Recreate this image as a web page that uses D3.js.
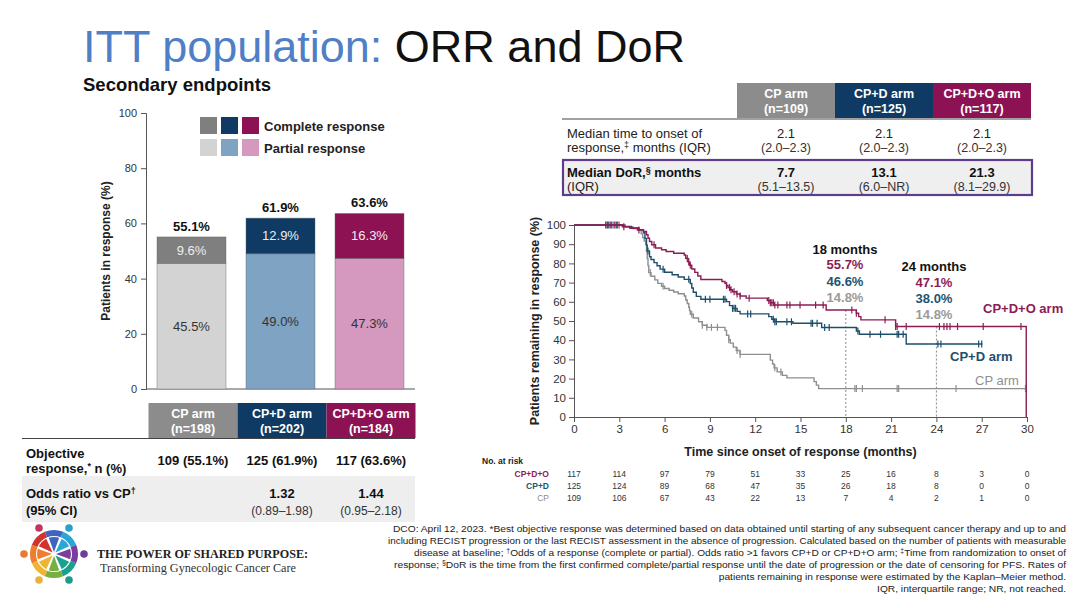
<!DOCTYPE html>
<html><head><meta charset="utf-8">
<script src="https://cdn.jsdelivr.net/npm/d3@7"></script>
<style>body{margin:0;background:#fff;} svg{display:block;font-family:"Liberation Sans",Arial,sans-serif;}</style>
</head><body><svg id="c" width="1080" height="608"></svg>
<script>
// ---------- data ----------
const arms = ["CP arm", "CP+D arm", "CP+D+O arm"];
const completeResp = [9.6, 12.9, 16.3];
const partialResp = [45.5, 49.0, 47.3];
const totalResp = [55.1, 61.9, 63.6];
const barTicks = [0, 20, 40, 60, 80, 100];
const legendLabels = ["Complete response", "Partial response"];

const ittN = ["(n=198)", "(n=202)", "(n=184)"];
const orrText = ["109 (55.1%)", "125 (61.9%)", "117 (63.6%)"];
const oddsRatio = ["", "1.32", "1.44"];
const oddsCI = ["", "(0.89–1.98)", "(0.95–2.18)"];

const respN = ["(n=109)", "(n=125)", "(n=117)"];
const onsetMedian = ["2.1", "2.1", "2.1"];
const onsetIQR = ["(2.0–2.3)", "(2.0–2.3)", "(2.0–2.3)"];
const dorMedian = ["7.7", "13.1", "21.3"];
const dorIQR = ["(5.1–13.5)", "(6.0–NR)", "(8.1–29.9)"];

const kmTicksX = [0, 3, 6, 9, 12, 15, 18, 21, 24, 27, 30];
const kmTicksY = [0, 10, 20, 30, 40, 50, 60, 70, 80, 90, 100];

// KM step points [month, % after step]
const kmCPDO = [[0,100],[3.2,99.1],[3.7,98.3],[4.2,97.4],[4.6,96.6],[4.8,94.9],[4.9,93.1],[5.0,91.4],[5.15,89.7],[5.4,88.0],[5.8,87.1],[6.1,86.2],[6.6,85.3],[7.3,84.4],[7.4,82.6],[7.55,80.8],[7.65,79.0],[7.8,77.1],[8.0,75.3],[8.2,73.4],[8.4,71.6],[9.8,70.6],[10.0,69.6],[10.1,68.5],[10.2,67.4],[10.35,66.3],[10.5,65.2],[10.75,64.1],[11.0,63.0],[11.4,61.9],[12.8,60.7],[13.0,59.5],[13.25,58.3],[16.7,55.7],[18.7,54.0],[18.85,52.3],[19.0,50.6],[21.3,47.1],[29.95,0]];
const kmCPD = [[0,100],[3.3,99.2],[3.8,98.4],[4.3,97.6],[4.6,96.0],[4.7,93.0],[4.8,89.5],[4.85,86.5],[5.0,83.5],[5.1,82.0],[5.3,80.4],[5.5,78.8],[5.7,77.0],[6.0,75.4],[6.5,74.1],[6.9,72.9],[7.3,71.7],[7.7,69.5],[7.8,67.2],[7.9,65.0],[8.1,62.8],[8.4,61.3],[10.1,60.1],[10.3,58.0],[10.5,56.6],[10.8,55.0],[11.0,53.7],[12.9,52.3],[13.1,50.9],[13.3,49.6],[14.5,48.8],[16.4,46.6],[18.7,44.8],[18.9,43.1],[22.0,38.0],[27.05,38.0]];
const kmCP = [[0,100],[3.4,99.1],[3.9,98.2],[4.3,97.2],[4.45,95.4],[4.55,93.5],[4.65,91.7],[4.75,89.9],[4.8,86.2],[4.85,82.5],[4.9,78.9],[4.95,75.2],[5.1,73.3],[5.35,71.4],[5.55,69.6],[5.8,68.1],[6.0,66.9],[6.3,66.0],[6.6,65.1],[6.9,64.2],[7.3,63.0],[7.4,60.9],[7.5,59.1],[7.6,57.2],[7.65,55.4],[7.7,53.5],[7.9,51.6],[8.25,49.6],[8.5,47.8],[8.8,46.7],[10.0,45.1],[10.1,42.6],[10.25,40.2],[10.35,38.5],[10.55,36.4],[10.75,34.6],[11.0,32.6],[13.0,29.6],[13.15,27.6],[13.25,25.6],[13.45,23.5],[13.8,21.7],[14.1,20.4],[15.9,18.4],[16.05,16.6],[16.2,14.8],[29.9,14.8]];

const censCPDO = [2.2,2.4,2.7,2.9,3.3,4.3,5.3,7.5,7.6,7.7,10.1,10.3,10.4,10.6,10.8,11.0,11.6,12.9,13.0,13.1,13.2,13.3,13.5,14.1,14.3,14.97,16.0,16.5,18.4,18.7,20.6,21.3,21.4,22.0,24.2,24.5,24.7,24.9,25.4,27.1,29.6];
const censCPD = [2.1,2.3,2.5,2.8,4.9,5.9,7.6,8.7,9.0,9.9,10.0,10.5,10.6,10.7,11.5,11.7,13.2,13.3,13.4,14.1,14.4,15.7,15.8,16.1,16.6,16.9,18.8,19.6,20.3,21.4,21.5,21.8,24.1,24.3,26.8,27.0];
const censCP = [2.2,2.6,3.0,5.05,5.9,7.8,8.5,8.8,9.1,9.5,10.25,10.8,11.0,13.3,13.7,18.6,18.7,19.1,21.4,21.5,25.3,29.9];

const rate18 = ["55.7%", "46.6%", "14.8%"];
const rate24 = ["47.1%", "38.0%", "14.8%"];
const landmarkValue18 = 55.7, landmarkValue24 = 47.1;

const riskLabels = ["CP+D+O", "CP+D", "CP"];
const riskCPDO = [117,114,97,79,51,33,25,16,8,3,0];
const riskCPD = [125,124,89,68,47,35,26,18,8,0,0];
const riskCP = [109,106,67,43,22,13,7,4,2,1,0];

const footLines = [
  ["DCO: April 12, 2023. *Best objective response was determined based on data obtained until starting of any subsequent cancer therapy and up to and"],
  ["including RECIST progression or the last RECIST assessment in the absence of progression. Calculated based on the number of patients with measurable"],
  ["disease at baseline; ", "†", "Odds of a response (complete or partial). Odds ratio >1 favors CP+D or CP+D+O arm; ", "‡", "Time from randomization to onset of"],
  ["response; ", "§", "DoR is the time from the first confirmed complete/partial response until the date of progression or the date of censoring for PFS. Rates of"],
  ["patients remaining in response were estimated by the Kaplan–Meier method."],
  ["IQR, interquartile range; NR, not reached."]
];

// ---------- styles ----------
const completeColors = ["#7f7f7f", "#0e3a63", "#8c1253"];
const partialColors = ["#d3d3d3", "#7ea3c3", "#d598bf"];
const headerColors = ["#8c8c8c", "#0e3a63", "#8c1253"];
const kmColors = ["#8c1c55", "#1d4f6c", "#8f8f8f"];
const rateColors = ["#8c1c55", "#1d5570", "#9a9a9a"];

const svg = d3.select("#c");

// ---------- title ----------
const title = svg.append("text").attr("x", 83).attr("y", 62).attr("font-size", 45);
title.append("tspan").attr("fill", "#4f7fc6").text("ITT population: ");
title.append("tspan").attr("fill", "#111").text("ORR and DoR");
svg.append("text").attr("x", 83).attr("y", 91).attr("font-size", 18.5).attr("font-weight", "bold")
  .attr("fill", "#111").text("Secondary endpoints");

// ---------- bar chart ----------
const xBar = d3.scaleBand().domain(arms).range([147, 414]).paddingInner(20/89).paddingOuter(10/89);
const yBar = d3.scaleLinear().domain([0, 100]).range([389, 113]);

const gy = svg.append("g").attr("transform", "translate(146,0)")
  .call(d3.axisLeft(yBar).tickValues(barTicks).tickSize(5).tickPadding(4));
gy.selectAll("text").attr("font-size", 11).attr("fill", "#333").attr("font-family", "Liberation Sans, Arial");
gy.selectAll("line,path").attr("stroke", "#555");
svg.append("line").attr("x1", 146).attr("x2", 415).attr("y1", yBar(0)).attr("y2", yBar(0)).attr("stroke", "#555");
svg.append("text").attr("transform", `translate(110,${(yBar(0)+yBar(100))/2}) rotate(-90)`)
  .attr("text-anchor", "middle").attr("font-size", 12).attr("font-weight", "bold").attr("fill", "#222")
  .text("Patients in response (%)");

arms.forEach((a, i) => {
  const x = xBar(a), w = xBar.bandwidth();
  svg.append("rect").attr("x", x).attr("width", w).attr("y", yBar(partialResp[i]))
    .attr("height", yBar(0) - yBar(partialResp[i])).attr("fill", partialColors[i])
    .attr("stroke", "#666").attr("stroke-opacity", 0.5).attr("stroke-width", 0.8);
  svg.append("rect").attr("x", x).attr("width", w).attr("y", yBar(totalResp[i]))
    .attr("height", yBar(partialResp[i]) - yBar(totalResp[i])).attr("fill", completeColors[i])
    .attr("stroke", "#666").attr("stroke-opacity", 0.5).attr("stroke-width", 0.8);
  const cx = x + w / 2;
  svg.append("text").attr("x", cx).attr("y", yBar(totalResp[i]) - 6).attr("text-anchor", "middle")
    .attr("font-size", 13).attr("font-weight", "bold").attr("fill", "#111").text(totalResp[i].toFixed(1) + "%");
  svg.append("text").attr("x", cx).attr("y", (yBar(totalResp[i]) + yBar(partialResp[i])) / 2 + 4.5)
    .attr("text-anchor", "middle").attr("font-size", 13).attr("fill", "#eeeeee").text(completeResp[i].toFixed(1) + "%");
  svg.append("text").attr("x", cx).attr("y", (yBar(partialResp[i]) + yBar(0)) / 2 + 4.5)
    .attr("text-anchor", "middle").attr("font-size", 13).attr("fill", "#333").text(partialResp[i].toFixed(1) + "%");
});

// legend
[completeColors, partialColors].forEach((cols, r) => {
  cols.forEach((c, i) => {
    svg.append("rect").attr("x", 200 + i * 21).attr("y", 117 + r * 22).attr("width", 17).attr("height", 17).attr("fill", c);
  });
  svg.append("text").attr("x", 264).attr("y", 130.5 + r * 22).attr("font-size", 13).attr("font-weight", "bold")
    .attr("fill", "#222").text(legendLabels[r]);
});

// ---------- left table ----------
arms.forEach((a, i) => {
  const cx = xBar(a) + xBar.bandwidth() / 2 + 1.5;
  svg.append("rect").attr("x", cx - 44.5).attr("y", 403).attr("width", 89).attr("height", 35).attr("fill", headerColors[i]);
  svg.append("text").attr("x", cx).attr("y", 417.5).attr("text-anchor", "middle").attr("font-size", 12.5)
    .attr("font-weight", "bold").attr("fill", "#fff").text(a);
  svg.append("text").attr("x", cx).attr("y", 433).attr("text-anchor", "middle").attr("font-size", 12.5)
    .attr("font-weight", "bold").attr("fill", "#fff").text(ittN[i]);
});
svg.append("line").attr("x1", 22).attr("x2", 415).attr("y1", 438.5).attr("y2", 438.5).attr("stroke", "#444").attr("stroke-width", 1.2);
svg.append("rect").attr("x", 22).attr("y", 476).attr("width", 393).attr("height", 46).attr("fill", "#eeeeee");
svg.append("text").attr("x", 26).attr("y", 458).attr("font-size", 13).attr("font-weight", "bold").attr("fill", "#111").text("Objective");
const rt = svg.append("text").attr("x", 26).attr("y", 473).attr("font-size", 13).attr("font-weight", "bold").attr("fill", "#111");
rt.append("tspan").text("response,");
rt.append("tspan").attr("font-size", 9).attr("dy", -4).text("*");
rt.append("tspan").attr("dy", 4).text(" n (%)");
const ot = svg.append("text").attr("x", 26).attr("y", 497.5).attr("font-size", 13).attr("font-weight", "bold").attr("fill", "#111");
ot.append("tspan").text("Odds ratio vs CP");
ot.append("tspan").attr("font-size", 9).attr("dy", -4).text("†");
svg.append("text").attr("x", 26).attr("y", 514.5).attr("font-size", 13).attr("font-weight", "bold").attr("fill", "#111").text("(95% CI)");
arms.forEach((a, i) => {
  const cx = xBar(a) + xBar.bandwidth() / 2 + 1.5;
  svg.append("text").attr("x", cx).attr("y", 465).attr("text-anchor", "middle").attr("font-size", 13)
    .attr("font-weight", "bold").attr("fill", "#111").text(orrText[i]);
  svg.append("text").attr("x", cx).attr("y", 497.5).attr("text-anchor", "middle").attr("font-size", 13)
    .attr("font-weight", "bold").attr("fill", "#111").text(oddsRatio[i]);
  svg.append("text").attr("x", cx).attr("y", 514.5).attr("text-anchor", "middle").attr("font-size", 12)
    .attr("fill", "#333").text(oddsCI[i]);
});

// ---------- right table ----------
const xTab = d3.scaleBand().domain(arms).range([737, 1031]);
arms.forEach((a, i) => {
  const x = xTab(a), cx = x + xTab.bandwidth() / 2;
  svg.append("rect").attr("x", x).attr("y", 83).attr("width", xTab.bandwidth()).attr("height", 35).attr("fill", headerColors[i]);
  svg.append("text").attr("x", cx).attr("y", 97.5).attr("text-anchor", "middle").attr("font-size", 12.5)
    .attr("font-weight", "bold").attr("fill", "#fff").text(a);
  svg.append("text").attr("x", cx).attr("y", 113).attr("text-anchor", "middle").attr("font-size", 12.5)
    .attr("font-weight", "bold").attr("fill", "#fff").text(respN[i]);
});
svg.append("line").attr("x1", 562).attr("x2", 1031).attr("y1", 119).attr("y2", 119).attr("stroke", "#444").attr("stroke-width", 1.2);
svg.append("text").attr("x", 567).attr("y", 137.5).attr("font-size", 13).attr("fill", "#222").text("Median time to onset of");
const mt = svg.append("text").attr("x", 567).attr("y", 152).attr("font-size", 13).attr("fill", "#222");
mt.append("tspan").text("response,");
mt.append("tspan").attr("font-size", 9).attr("dy", -4).text("‡");
mt.append("tspan").attr("dy", 4).text(" months (IQR)");
svg.append("rect").attr("x", 563).attr("y", 160).attr("width", 469).attr("height", 35).attr("fill", "#efefef")
  .attr("stroke", "#5e3c8c").attr("stroke-width", 2.2);
const dt = svg.append("text").attr("x", 567).attr("y", 176.5).attr("font-size", 13).attr("font-weight", "bold").attr("fill", "#111");
dt.append("tspan").text("Median DoR,");
dt.append("tspan").attr("font-size", 9).attr("dy", -4).text("§");
dt.append("tspan").attr("dy", 4).text(" months");
svg.append("text").attr("x", 567).attr("y", 190.5).attr("font-size", 13).attr("fill", "#222").text("(IQR)");
arms.forEach((a, i) => {
  const cx = xTab(a) + xTab.bandwidth() / 2;
  svg.append("text").attr("x", cx).attr("y", 137.5).attr("text-anchor", "middle").attr("font-size", 13).attr("fill", "#222").text(onsetMedian[i]);
  svg.append("text").attr("x", cx).attr("y", 152).attr("text-anchor", "middle").attr("font-size", 12.5).attr("fill", "#333").text(onsetIQR[i]);
  svg.append("text").attr("x", cx).attr("y", 176.5).attr("text-anchor", "middle").attr("font-size", 13).attr("font-weight", "bold").attr("fill", "#111").text(dorMedian[i]);
  svg.append("text").attr("x", cx).attr("y", 190.5).attr("text-anchor", "middle").attr("font-size", 12.5).attr("fill", "#333").text(dorIQR[i]);
});

// ---------- KM plot ----------
const xKM = d3.scaleLinear().domain([0, 30]).range([574, 1027]);
const yKM = d3.scaleLinear().domain([0, 100]).range([417, 225]);

const gky = svg.append("g").attr("transform", "translate(574,0)")
  .call(d3.axisLeft(yKM).tickValues(kmTicksY).tickSize(5).tickPadding(3));
const gkx = svg.append("g").attr("transform", "translate(0,417)")
  .call(d3.axisBottom(xKM).tickValues(kmTicksX).tickSize(5).tickPadding(3));
[gky, gkx].forEach(g => {
  g.selectAll("text").attr("font-size", 11.5).attr("fill", "#333").attr("font-family", "Liberation Sans, Arial");
  g.selectAll("line,path").attr("stroke", "#555");
});
svg.append("text").attr("transform", `translate(539,${(yKM(0)+yKM(100))/2}) rotate(-90)`)
  .attr("text-anchor", "middle").attr("font-size", 12.5).attr("font-weight", "bold").attr("fill", "#222")
  .text("Patients remaining in response (%)");
svg.append("text").attr("x", (xKM(0) + xKM(30)) / 2).attr("y", 456).attr("text-anchor", "middle")
  .attr("font-size", 12.5).attr("font-weight", "bold").attr("fill", "#222").text("Time since onset of response (months)");

// landmark dashed lines
svg.append("line").attr("x1", xKM(18)).attr("x2", xKM(18)).attr("y1", yKM(landmarkValue18)).attr("y2", yKM(0))
  .attr("stroke", "#888").attr("stroke-dasharray", "2,2");
svg.append("line").attr("x1", xKM(24)).attr("x2", xKM(24)).attr("y1", yKM(landmarkValue24)).attr("y2", yKM(0))
  .attr("stroke", "#888").attr("stroke-dasharray", "2,2");

const stepLine = d3.line().x(d => xKM(d[0])).y(d => yKM(d[1])).curve(d3.curveStepAfter);
const kmSets = [kmCP, kmCPD, kmCPDO];
const censSets = [censCP, censCPD, censCPDO];
const setColors = [kmColors[2], kmColors[1], kmColors[0]];
function valueAt(steps, t) {
  let v = steps[0][1];
  for (const s of steps) { if (s[0] <= t + 1e-9) v = s[1]; else break; }
  return v;
}
kmSets.forEach((steps, k) => {
  svg.append("path").attr("d", stepLine(steps)).attr("fill", "none").attr("stroke", setColors[k]).attr("stroke-width", 1.4);
  svg.append("g").selectAll("line").data(censSets[k]).join("line")
    .attr("x1", d => xKM(d)).attr("x2", d => xKM(d))
    .attr("y1", d => yKM(valueAt(steps, d)) - 3.5).attr("y2", d => yKM(valueAt(steps, d)) + 3.5)
    .attr("stroke", setColors[k]).attr("stroke-width", 1.2);
});

// landmark annotations
svg.append("text").attr("x", 845).attr("y", 254).attr("text-anchor", "middle").attr("font-size", 13)
  .attr("font-weight", "bold").attr("fill", "#111").text("18 months");
rate18.forEach((r, i) => svg.append("text").attr("x", 845).attr("y", 269 + i * 16.5).attr("text-anchor", "middle")
  .attr("font-size", 13).attr("font-weight", "bold").attr("fill", rateColors[i]).text(r));
svg.append("text").attr("x", 934).attr("y", 271).attr("text-anchor", "middle").attr("font-size", 13)
  .attr("font-weight", "bold").attr("fill", "#111").text("24 months");
rate24.forEach((r, i) => svg.append("text").attr("x", 934).attr("y", 287 + i * 16).attr("text-anchor", "middle")
  .attr("font-size", 13).attr("font-weight", "bold").attr("fill", rateColors[i]).text(r));

// arm labels
svg.append("text").attr("x", 983).attr("y", 312.5).attr("font-size", 13).attr("font-weight", "bold").attr("fill", kmColors[0]).text("CP+D+O arm");
svg.append("text").attr("x", 950).attr("y", 360.5).attr("font-size", 13).attr("font-weight", "bold").attr("fill", kmColors[1]).text("CP+D arm");
svg.append("text").attr("x", 975).attr("y", 384.5).attr("font-size", 13).attr("fill", kmColors[2]).text("CP arm");

// number at risk
svg.append("text").attr("x", 482).attr("y", 464).attr("font-size", 8.5).attr("font-weight", "bold").attr("fill", "#222").text("No. at risk");
const riskRows = [riskCPDO, riskCPD, riskCP];
const riskColors = ["#8c1c55", "#1d5570", "#8f8f8f"];
riskRows.forEach((row, r) => {
  const y = 477 + r * 12;
  svg.append("text").attr("x", 549).attr("y", y).attr("text-anchor", "end").attr("font-size", 8.5)
    .attr("font-weight", r < 2 ? "bold" : "normal").attr("fill", riskColors[r]).text(riskLabels[r]);
  row.forEach((v, j) => svg.append("text").attr("x", xKM(kmTicksX[j])).attr("y", y).attr("text-anchor", "middle")
    .attr("font-size", 8.5).attr("fill", "#333").text(v));
});

// ---------- footnote ----------
const footRight = 1066;
const footStarts = [393, 388, 414, 394];
let squeeze = 1;
footLines.forEach((parts, i) => {
  const t = svg.append("text").attr("y", 532 + i * 12).attr("font-size", 9.6)
    .attr("fill", "#222").attr("font-family", "Liberation Sans Narrow, Arial Narrow, Liberation Sans, Arial");
  parts.forEach(p => {
    if (p === "†" || p === "‡" || p === "§") t.append("tspan").attr("font-size", 6.5).attr("baseline-shift", "super").text(p);
    else t.append("tspan").text(p);
  });
  const natural = t.node().getComputedTextLength();
  let len;
  if (i < footStarts.length) {
    len = footRight - footStarts[i];
    if (i === 0) squeeze = len / natural;
  } else {
    len = natural * squeeze;
  }
  t.attr("x", footRight - len).attr("textLength", len).attr("lengthAdjust", "spacingAndGlyphs");
});

// ---------- logo ----------
const logo = svg.append("g").attr("transform", "translate(54,554)");
const wheelColors = ["#7a3f9e", "#1aa08f", "#76b041", "#f0b433", "#ee7d30", "#d0342c", "#3f63c0", "#28a6d6"];
const pie = d3.pie().value(1).sort(null).startAngle(Math.PI / 2 - Math.PI / 8).endAngle(Math.PI / 2 - Math.PI / 8 + 2 * Math.PI);
const arcs = pie(wheelColors);
logo.selectAll("path.w").data(arcs).join("path").attr("class", "w")
  .attr("d", d3.arc().innerRadius(2).outerRadius(17).padAngle(0.16)).attr("fill", (d, i) => wheelColors[i]);
logo.selectAll("path.r").data(arcs).join("path").attr("class", "r")
  .attr("d", d3.arc().innerRadius(18).outerRadius(24)).attr("fill", (d, i) => wheelColors[i]);
const dotAngles = [0, 60, 120, 180, 240, 300];
const dotColors = ["#6f3d98", "#1b9c8b", "#e9b23b", "#e77b35", "#c03562", "#2aa0cd"];
logo.selectAll("circle").data(dotAngles).join("circle")
  .attr("cx", d => 30 * Math.cos(d * Math.PI / 180)).attr("cy", d => 30 * Math.sin(d * Math.PI / 180))
  .attr("r", 3.8).attr("fill", (d, i) => dotColors[i]);
svg.append("text").attr("x", 97).attr("y", 558).attr("font-family", "Liberation Serif, DejaVu Serif, serif")
  .attr("font-weight", "bold").attr("font-size", 12.5).attr("fill", "#222").attr("textLength", 211)
  .attr("lengthAdjust", "spacingAndGlyphs").text("THE POWER OF SHARED PURPOSE:");
svg.append("text").attr("x", 100).attr("y", 572).attr("font-family", "Liberation Serif, DejaVu Serif, serif")
  .attr("font-size", 11.5).attr("fill", "#333").attr("textLength", 196)
  .attr("lengthAdjust", "spacingAndGlyphs").text("Transforming Gynecologic Cancer Care");
</script></body></html>
